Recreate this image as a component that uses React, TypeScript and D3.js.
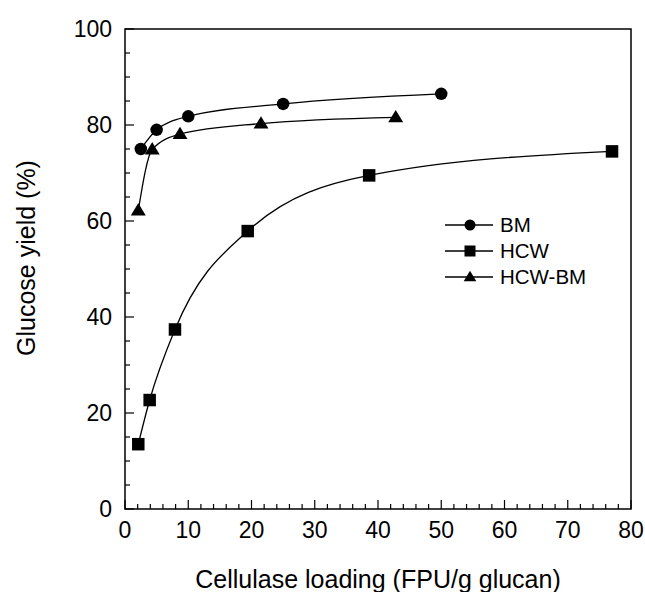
import React, { useEffect, useRef } from 'react';
import * as d3 from 'd3';

// Values
const bmLoading = [2.5, 5, 10, 25, 50];
const bmYield = [75, 79, 81.8, 84.4, 86.5];

const hcwLoading = [2.1, 3.9, 7.9, 19.4, 38.6, 77];
const hcwYield = [13.5, 22.7, 37.4, 57.9, 69.5, 74.5];

const hcwBmLoading = [2.1, 4.3, 8.7, 21.5, 42.8];
const hcwBmYield = [62.2, 74.9, 78.1, 80.3, 81.6];

const seriesNames = ['BM', 'HCW', 'HCW-BM'];
const markerTypes = ['circle', 'square', 'triangle'];

const xTicks = [0, 10, 20, 30, 40, 50, 60, 70, 80];
const yTicks = [0, 20, 40, 60, 80, 100];

const FONT = '"Liberation Sans", Arial, Helvetica, sans-serif';

const App = () => {
    const svgRef = useRef<SVGSVGElement | null>(null);

    useEffect(() => {
        const config = {
            width: 645,
            height: 592,
            margin: { top: 29, right: 14, bottom: 83, left: 125 }
        };
        const innerWidth = config.width - config.margin.left - config.margin.right;
        const innerHeight = config.height - config.margin.top - config.margin.bottom;

        const svg = d3.select(svgRef.current);
        svg.selectAll('*').remove();
        svg.attr('width', config.width).attr('height', config.height);

        const g = svg.append('g')
            .attr('transform', `translate(${config.margin.left}, ${config.margin.top})`);

        const xScale = d3.scaleLinear().domain([0, 80]).range([0, innerWidth]);
        const yScale = d3.scaleLinear().domain([0, 100]).range([innerHeight, 0]);

        // Frame
        g.append('rect')
            .attr('x', 0).attr('y', 0)
            .attr('width', innerWidth).attr('height', innerHeight)
            .attr('fill', 'none')
            .attr('stroke', '#000')
            .attr('stroke-width', 1.5);

        // Ticks (inward), major + minor
        const xMinor = d3.range(0, 81, 2);
        g.selectAll('.xtick')
            .data(xMinor)
            .enter().append('line')
            .attr('x1', d => xScale(d)).attr('x2', d => xScale(d))
            .attr('y1', innerHeight)
            .attr('y2', d => innerHeight - (d % 10 === 0 ? 9 : 5))
            .attr('stroke', '#000').attr('stroke-width', 1.2);

        const yMinor = d3.range(0, 101, 5);
        g.selectAll('.ytick')
            .data(yMinor)
            .enter().append('line')
            .attr('y1', d => yScale(d)).attr('y2', d => yScale(d))
            .attr('x1', 0)
            .attr('x2', d => (d % 20 === 0 ? 9 : 5))
            .attr('stroke', '#000').attr('stroke-width', 1.2);

        // Tick labels
        g.selectAll('.xlabel')
            .data(xTicks)
            .enter().append('text')
            .attr('x', d => xScale(d))
            .attr('y', innerHeight + 29)
            .attr('text-anchor', 'middle')
            .style('font-family', FONT)
            .style('font-size', '23px')
            .text(d => d);

        g.selectAll('.ylabel')
            .data(yTicks)
            .enter().append('text')
            .attr('x', -13)
            .attr('y', d => yScale(d))
            .attr('dy', '0.36em')
            .attr('text-anchor', 'end')
            .style('font-family', FONT)
            .style('font-size', '23px')
            .text(d => d);

        // Axis titles
        g.append('text')
            .attr('x', innerWidth / 2)
            .attr('y', innerHeight + 79)
            .attr('text-anchor', 'middle')
            .style('font-family', FONT)
            .style('font-size', '25px')
            .text('Cellulase loading (FPU/g glucan)');

        g.append('text')
            .attr('transform', `translate(${35 - config.margin.left}, ${innerHeight / 2 - 11}) rotate(-90)`)
            .attr('text-anchor', 'middle')
            .style('font-family', FONT)
            .style('font-size', '25px')
            .text('Glucose yield (%)');

        const line = d3.line<[number, number]>()
            .x(d => xScale(d[0]))
            .y(d => yScale(d[1]))
            .curve(d3.curveMonotoneX);

        const drawMarker = (sel: any, type: string, cx: number, cy: number, size: number) => {
            if (type === 'circle') {
                sel.append('circle').attr('cx', cx).attr('cy', cy).attr('r', size / 2).attr('fill', '#000');
            } else if (type === 'square') {
                sel.append('rect')
                    .attr('x', cx - size / 2).attr('y', cy - size / 2)
                    .attr('width', size).attr('height', size).attr('fill', '#000');
            } else {
                const h = size * 0.95;
                const w = size * 1.15;
                sel.append('path')
                    .attr('d', `M${cx},${cy - h * 0.6}L${cx + w / 2},${cy + h * 0.4}L${cx - w / 2},${cy + h * 0.4}Z`)
                    .attr('fill', '#000');
            }
        };

        const series = [
            d3.zip(bmLoading, bmYield),
            d3.zip(hcwLoading, hcwYield),
            d3.zip(hcwBmLoading, hcwBmYield)
        ] as [number, number][][];

        series.forEach((pts, i) => {
            g.append('path')
                .datum(pts)
                .attr('d', line)
                .attr('fill', 'none')
                .attr('stroke', '#000')
                .attr('stroke-width', 1.3);
            pts.forEach(p => drawMarker(g, markerTypes[i], xScale(p[0]), yScale(p[1]), i === 2 ? 13 : 12.5));
        });

        // Legend
        const legendX = 445 - config.margin.left;
        const legendY = 225 - config.margin.top;
        seriesNames.forEach((name, i) => {
            const y = legendY + i * 26;
            g.append('line')
                .attr('x1', legendX).attr('x2', legendX + 48)
                .attr('y1', y).attr('y2', y)
                .attr('stroke', '#000').attr('stroke-width', 1.3);
            drawMarker(g, markerTypes[i], legendX + 25, y, 11);
            g.append('text')
                .attr('x', legendX + 55)
                .attr('y', y)
                .attr('dy', '0.36em')
                .style('font-family', FONT)
                .style('font-size', '20.5px')
                .text(name);
        });
    }, []);

    return (
        <div style={{ position: 'absolute', left: 0, top: 0 }}>
            <svg ref={svgRef} style={{ display: 'block' }}></svg>
        </div>
    );
};

export default App;
